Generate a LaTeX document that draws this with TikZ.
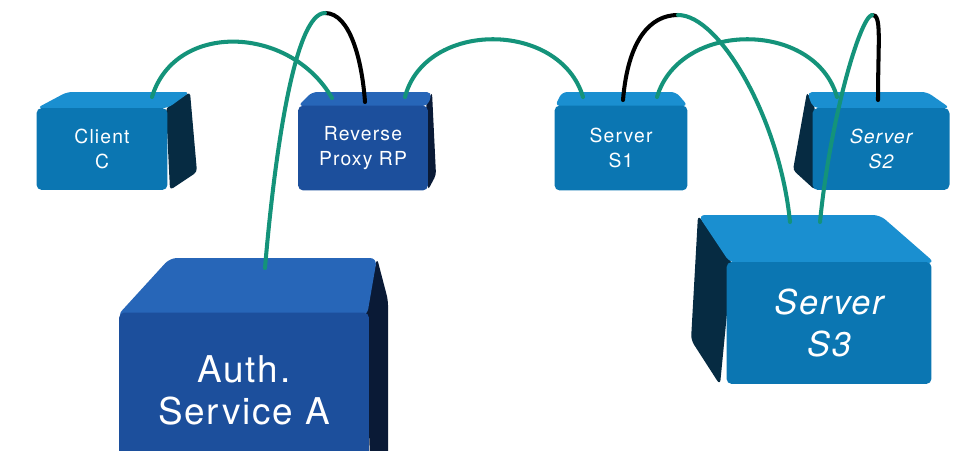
\documentclass[tikz,border=0pt]{standalone}
\usepackage{fontspec}
\setsansfont{TeX Gyre Heros}
\definecolor{topblue}{HTML}{1A8FD0}
\definecolor{frontblue}{HTML}{0B76B2}
\definecolor{sideblue}{HTML}{062B42}
\definecolor{topnavy}{HTML}{2766B8}
\definecolor{frontnavy}{HTML}{1C4F9C}
\definecolor{sidenavy}{HTML}{0A1A36}
\definecolor{cablegreen}{HTML}{14937A}
\begin{document}
\begin{tikzpicture}[x=0.02cm,y=-0.02cm]
\tikzstyle{every node}=[font=\sffamily\addfontfeature{LetterSpace=6}\fontsize{11}{14}\selectfont,text=white,align=center]
\tikzstyle{front}=[rectangle,rounded corners=3pt,fill=frontblue,inner sep=0pt]
\tikzstyle{slanted}=[font=\sffamily\itshape\addfontfeature{LetterSpace=6}\fontsize{11}{14}\selectfont]
\tikzstyle{bigtext}=[font=\sffamily\addfontfeature{LetterSpace=5}\fontsize{21}{24}\selectfont]
\tikzstyle{bigslanted}=[font=\sffamily\itshape\addfontfeature{LetterSpace=5}\fontsize{19.5}{24}\selectfont]
\tikzstyle{cable}=[line width=2.3pt,color=cablegreen,line cap=round]
\tikzstyle{blackcable}=[line width=2.3pt,color=black,line cap=round]
\clip (0,0) rectangle (966,450);

% box faces
\fill[sideblue,rounded corners=2pt] (166,108) -- (190,92) -- (197,172) -- (170,190) -- cycle;
\fill[topblue,rounded corners=3pt] (37,108) -- (67,92) -- (190,92) -- (168,108) -- cycle;
\fill[sidenavy,rounded corners=2pt] (426,105) -- (432,92) -- (436,175) -- (428,190) -- cycle;
\fill[topnavy,rounded corners=3pt] (298,106) -- (312,92) -- (432,92) -- (428,106) -- cycle;
\fill[topblue,rounded corners=3pt] (555,106) -- (562,92) -- (676,92) -- (688,106) -- cycle;
\fill[sideblue,rounded corners=2pt] (807,92) -- (815,108) -- (815,190) -- (793,170) -- cycle;
\fill[topblue,rounded corners=3pt] (813,108) -- (807,92) -- (927,92) -- (950,108) -- cycle;
\fill[sideblue,rounded corners=3pt] (698,215) -- (732,262) -- (720,385) -- (691,340) -- cycle;
\fill[topblue,rounded corners=4pt] (730,263) -- (698,215) -- (880,215) -- (935,263) -- cycle;
\fill[sidenavy,rounded corners=3pt] (365,316) -- (377,258) -- (388,300) -- (388,460) -- (370,460) -- cycle;
\fill[topnavy,rounded corners=4pt] (117,316) -- (170,258) -- (377,258) -- (367,316) -- cycle;

\node[front,minimum width=2.62cm,minimum height=1.64cm](client) at (102,149) {Client\\C};
\node[front,fill=frontnavy,minimum width=2.6cm,minimum height=1.7cm](rp) at (363,148) {Reverse\\Proxy RP};
\node[front,minimum width=2.66cm,minimum height=1.7cm](s1) at (621,148) {Server\\S1};
\node[front,minimum width=2.74cm,minimum height=1.64cm,slanted](s2) at (881,149) {Server\\S2};
\node[front,minimum width=4.1cm,minimum height=2.44cm,bigslanted](s3) at (829,323) {Server\\S3};
\node[front,fill=frontnavy,minimum width=5cm,minimum height=3.1cm,bigtext](auth) at (244,390) {Auth.\\Service A};

% cable ends
\coordinate (c-rp) at (152,97);
\coordinate (rp-c) at (332,98);
\coordinate (rp-a) at (365,102);
\coordinate (a-rp) at (265,268);
\coordinate (rp-s1) at (405,97);
\coordinate (s1-rp) at (583,97);
\coordinate (s1-s3) at (623,100);
\coordinate (s1-s2) at (657,97);
\coordinate (s2-s1) at (837,97);
\coordinate (s2-s3) at (878,100);
\coordinate (s3-s1) at (790,222);
\coordinate (s3-s2) at (820,222);
\coordinate (top1) at (325,13);
\coordinate (top2) at (678,15);
\coordinate (top3) at (872,15);

% cables
\draw[cable] (c-rp) .. controls (175,21) and (290,25) .. (rp-c);
\draw[cable] (rp-s1) .. controls (425,20) and (560,20) .. (s1-rp);
\draw[cable] (s1-s2) .. controls (680,20) and (815,20) .. (s2-s1);
\draw[blackcable] (rp-a) .. controls (362,60) and (350,13) .. (top1);
\draw[cable] (top1) .. controls (295,13) and (275,150) .. (a-rp);
\draw[blackcable] (s1-s3) .. controls (628,40) and (650,15) .. (top2);
\draw[cable] (top2) .. controls (720,15) and (780,120) .. (s3-s1);
\draw[blackcable] (s2-s3) .. controls (878,40) and (882,14) .. (top3);
\draw[cable] (top3) .. controls (860,17) and (830,120) .. (s3-s2);
\end{tikzpicture}
\end{document}
